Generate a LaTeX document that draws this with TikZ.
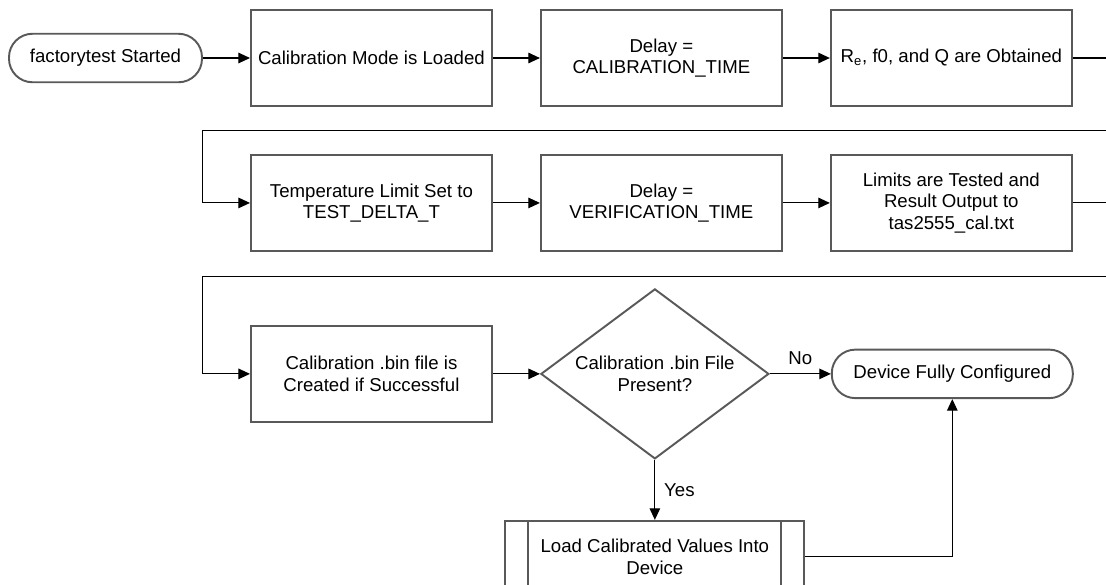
\documentclass[tikz,border=0pt]{standalone}
\usepackage{fontspec}
\setmainfont{Liberation Sans}
\usetikzlibrary{arrows.meta, positioning, shapes.geometric}
\definecolor{boxgray}{HTML}{595959}

\begin{document}
\begin{tikzpicture}[
    node distance=0.94cm and 0.94cm,
    font=\fontsize{10.6}{12.3}\selectfont,
    base/.style={draw=boxgray, line width=1.1pt, align=center, inner sep=2pt},
    process/.style={base, minimum width=4.82cm, minimum height=1.92cm},
    terminal/.style={base, rounded corners=0.47cm, minimum height=0.97cm},
    decision/.style={base, diamond, aspect=1.34, minimum width=4.56cm, minimum height=3.4cm, inner sep=0pt},
    subproc/.style={process, minimum width=5.98cm, minimum height=1.44cm,
        path picture={\draw[boxgray, line width=1.1pt]
            ([xshift=0.46cm]path picture bounding box.north west) -- ([xshift=0.46cm]path picture bounding box.south west)
            ([xshift=-0.46cm]path picture bounding box.north east) -- ([xshift=-0.46cm]path picture bounding box.south east);}},
    tag/.style={inner sep=3pt},
    arrow/.style={-{Triangle[length=0.23cm, width=0.21cm]}, line width=0.6pt}
]
\useasboundingbox (0,0) rectangle (22.12,-11.68);

% Nodes
\node[terminal, minimum width=3.86cm] (start) at (2.11,-1.16) {factorytest Started};
\node[process, right=of start] (mode) {Calibration Mode is Loaded};
\node[process, right=of mode] (calwait) {Delay =\\CALIBRATION\_TIME};
\node[process, right=of calwait] (params) {R\textsubscript{e}, f0, and Q are Obtained};

\node[process, below=of mode] (templim) {Temperature Limit Set to\\TEST\_DELTA\_T};
\node[process, right=of templim] (verwait) {Delay =\\VERIFICATION\_TIME};
\node[process, right=of verwait] (limits) {Limits are Tested and\\Result Output to\\tas2555\_cal.txt};

\node[process, below=1.46cm of templim] (binfile) {Calibration .bin file is\\Created if Successful};
\node[decision, right=of binfile] (present) {Calibration .bin File\\Present?};
\node[terminal, minimum width=4.82cm, right=1.22cm of present] (done) {Device Fully Configured};
\node[subproc, below=1.2cm of present] (load) {Load Calibrated Values Into\\Device};

% Bends
\coordinate[above left=0.47cm and 0.94cm of templim.north west] (wrapA);
\coordinate[above left=0.97cm and 0.94cm of binfile.north west] (wrapB);

% Arrows
\draw[arrow] (start) -- (mode);
\draw[arrow] (mode) -- (calwait);
\draw[arrow] (calwait) -- (params);
\draw[arrow] (params.east) -- ++(1,0) |- (wrapA) |- (templim.west);
\draw[arrow] (templim) -- (verwait);
\draw[arrow] (verwait) -- (limits);
\draw[arrow] (limits.east) -- ++(1,0) |- (wrapB) |- (binfile.west);
\draw[arrow] (binfile) -- (present);
\draw[arrow] (present) -- node[tag, above, yshift=2pt] {No} (done);
\draw[arrow] (present) -- node[tag, right, xshift=2pt] {Yes} (load);
\draw[arrow] (load.east) -| (done.south);

\end{tikzpicture}
\end{document}
